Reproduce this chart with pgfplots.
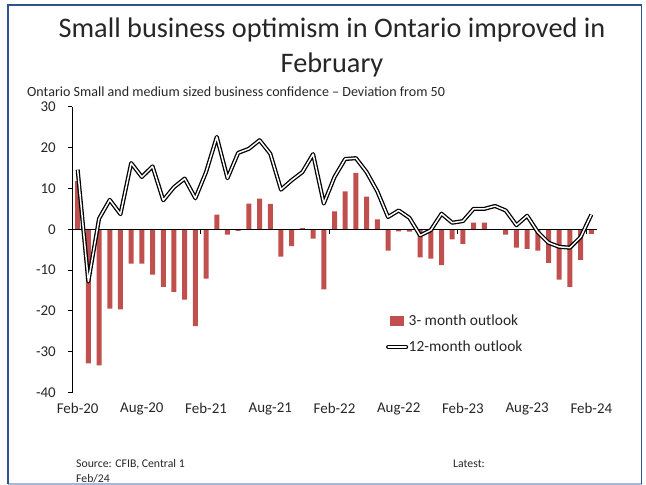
\documentclass[border=0pt]{standalone}
\usepackage{pgfplots}
\pgfplotsset{compat=1.18}
\usepackage{pgfplotstable}
\usepackage{fontspec}
\setmainfont{Carlito}
\definecolor{barred}{RGB}{192,80,77}
\definecolor{borderblue}{RGB}{47,82,143}
\definecolor{borderlight}{RGB}{165,185,215}
\definecolor{txt}{RGB}{38,38,38}

\pgfplotstableread{
x three twelve
0 11.8 14.6
1 -32.8 -12.8
2 -33.3 2.6
3 -19.4 7.2
4 -19.6 3.7
5 -8.4 16.2
6 -8.4 12.8
7 -11.1 15.4
8 -14.1 7.1
9 -15.3 10.3
10 -17.2 12.4
11 -23.7 7.6
12 -12.1 14.0
13 3.6 22.6
14 -1.3 12.5
15 -0.4 18.7
16 6.3 19.7
17 7.5 21.8
18 6.2 18.5
19 -6.7 9.7
20 -4.1 12.0
21 0.3 14.0
22 -2.3 18.4
23 -14.7 6.3
24 4.4 12.8
25 9.3 17.2
26 13.8 17.4
27 8.0 14.0
28 2.4 9.3
29 -5.2 3.0
30 -0.5 4.6
31 -0.6 2.8
32 -6.9 -1.5
33 -7.2 -0.2
34 -8.8 3.8
35 -2.5 1.6
36 -3.6 2.0
37 1.6 5.0
38 1.6 5.0
39 0.0 5.7
40 -1.3 4.6
41 -4.5 1.0
42 -4.8 3.3
43 -5.2 -0.7
44 -8.2 -3.3
45 -12.3 -4.3
46 -14.1 -4.5
47 -7.5 -1.9
48 -1.1 3.6
}\datatable

\begin{document}
\begin{tikzpicture}
\path[use as bounding box] (0,0) rectangle (646bp,485bp);
% frame
\draw[borderlight, line width=1.2bp] (8bp,1bp) -- (641.5bp,1bp);
\draw[borderblue, line width=1.6bp] (8bp,1bp) -- (8bp,480bp) -- (641.5bp,480bp) -- (641.5bp,1bp);
% titles
\node[anchor=base, inner sep=0pt, text=txt, font=\fontsize{28.4}{34}\selectfont] at (332bp,447bp) {Small business optimism in Ontario improved in};
\node[anchor=base, inner sep=0pt, text=txt, font=\fontsize{28.4}{34}\selectfont] at (332bp,412bp) {February};
\node[anchor=base west, inner sep=0pt, text=txt, font=\fontsize{14.1}{17}\selectfont] at (27bp,388bp) {Ontario Small and medium sized business confidence -- Deviation from 50};
% footer
\node[anchor=base west, inner sep=0pt, text=txt, font=\fontsize{11.8}{14}\selectfont] at (76bp,18bp) {Source: CFIB, Central 1};
\node[anchor=base west, inner sep=0pt, text=txt, font=\fontsize{11.8}{14}\selectfont] at (76bp,3bp) {Feb/24};
\node[anchor=base west, inner sep=0pt, text=txt, font=\fontsize{11.8}{14}\selectfont] at (453bp,18bp) {Latest:};

\begin{axis}[
  at={(72.3bp,92.3bp)}, anchor=south west,
  scale only axis, width=524.4bp, height=286bp,
  xmin=-0.5, xmax=48.5, ymin=-40, ymax=30,
  axis x line*=bottom, axis y line*=left,
  x axis line style={draw=none},
  y axis line style={black, line width=1pt},
  xtick={0,6,...,48},
  xticklabels={Feb-20,Aug-20,Feb-21,Aug-21,Feb-22,Aug-22,Feb-23,Aug-23,Feb-24},
  x tick style={draw=none},
  ytick={-40,-30,...,30},
  yticklabels={-40,-30,-20,-10,0,10,20,30},
  y tick style={black, line width=1pt},
  tick align=outside,
  major tick length=4bp,
  /pgf/number format/assume math mode=true,
  tick label style={text=txt, font=\fontsize{15}{18}\selectfont},
  xticklabel style={yshift=-3bp},
  yticklabel style={xshift=-9bp},
  clip=false,
  legend style={at={(0.598,0.275)}, anchor=north west, draw=none, fill=none,
     inner sep=0pt, row sep=13bp, column sep=0bp,
     font=\fontsize{15.5}{18}\selectfont, text=txt,
     nodes={inner sep=0.5bp, anchor=west}},
  legend cell align=left,
]
\addplot[ybar, bar width=5bp, fill=barred, draw=none,
  legend image code/.code={\fill[barred] (2bp,-5bp) rectangle (16bp,5bp);}]
  table[x=x, y=three] {\datatable};
\addlegendentry{3- month outlook}
\draw[black, line width=1pt] (axis cs:-0.5,0) -- (axis cs:48.5,0);
\draw[black, line width=0.8pt] (axis cs:11.5,0) -- ([yshift=-5bp]axis cs:11.5,0);
\draw[black, line width=0.8pt] (axis cs:23.5,0) -- ([yshift=-5bp]axis cs:23.5,0);
\draw[black, line width=0.8pt] (axis cs:35.5,0) -- ([yshift=-5bp]axis cs:35.5,0);
\draw[black, line width=0.8pt] (axis cs:47.5,0) -- ([yshift=-5bp]axis cs:47.5,0);
\addplot[black, line width=1.3pt, double=white, double distance=1.5pt, line join=round, sharp plot, no marks,
  legend image code/.code={\draw[black, line width=1.3pt, double=white, double distance=1.5pt, line cap=round] (0bp,0bp) -- (18bp,0bp);}]
  table[x=x, y=twelve] {\datatable};
\addlegendentry{12-month outlook}
\end{axis}
\end{tikzpicture}
\end{document}
